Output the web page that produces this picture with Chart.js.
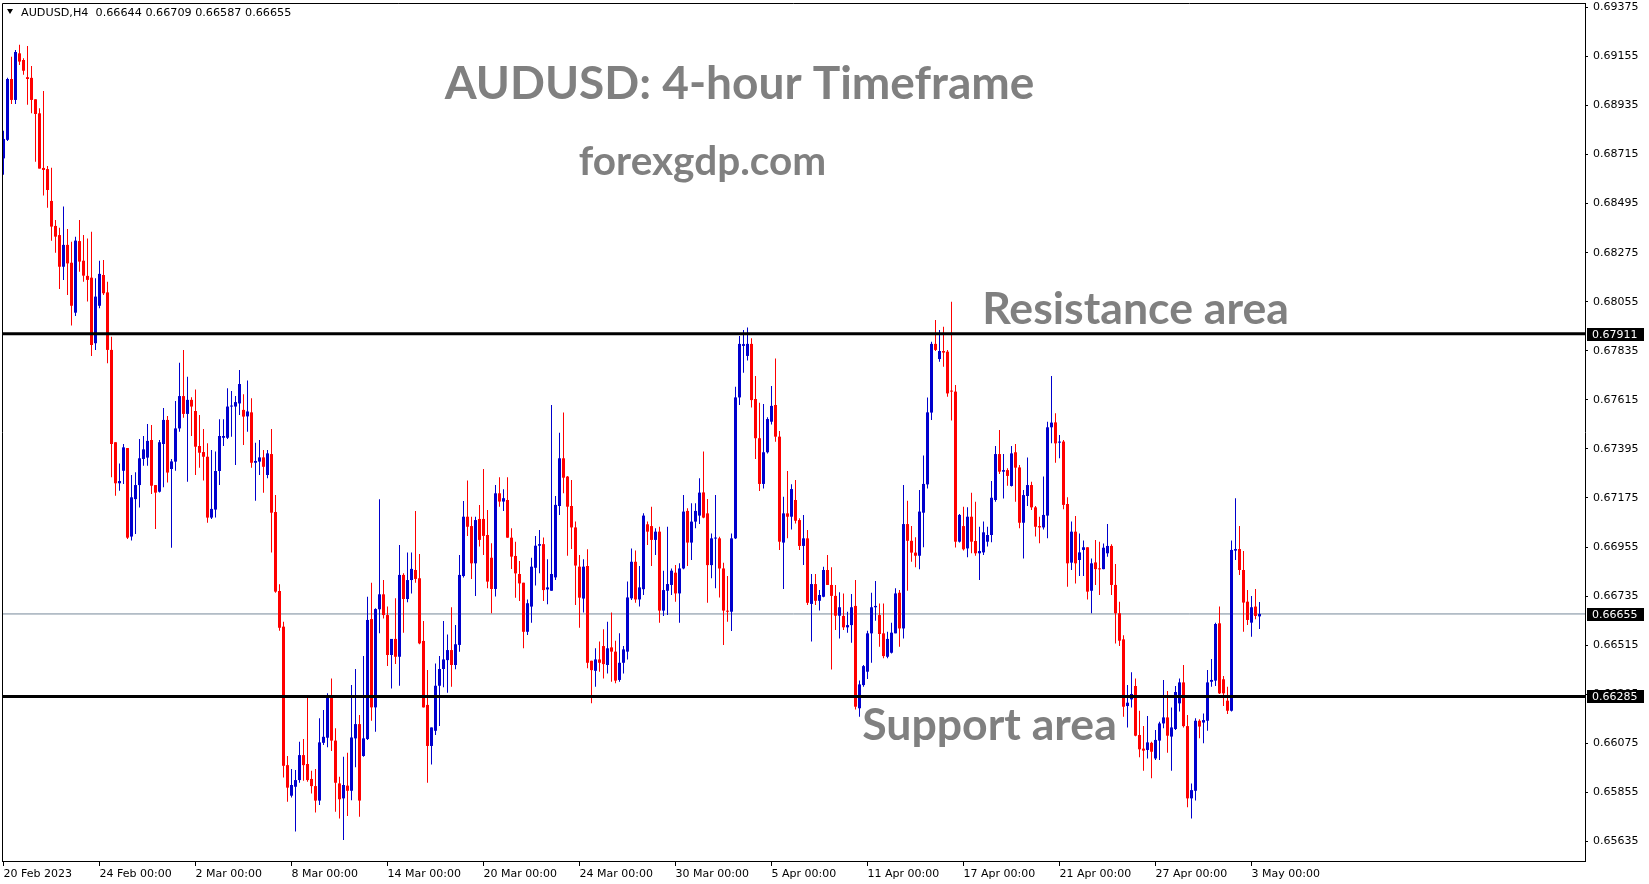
<!DOCTYPE html>
<html>
<head>
<meta charset="utf-8">
<title>AUDUSD H4</title>
<script src="https://cdn.jsdelivr.net/npm/chart.js@4.4.1/dist/chart.umd.min.js"></script>
<style>
  html, body { margin: 0; padding: 0; background: #fff; overflow: hidden; }
  canvas { display: block; }
</style>
</head>
<body>
<canvas id="chart" width="1649" height="884"></canvas>
<script>
// H4 candles, 20 Feb 2023 -> 3 May 2023
const barOpen = [
  0.68698, 0.68781, 0.69054, 0.68960, 0.69169, 0.69139, 0.69062, 0.69059, 0.68963, 0.68900,
  0.68655, 0.68650, 0.68507, 0.68395, 0.68354, 0.68212, 0.68310, 0.68230, 0.68006, 0.68327,
  0.68239, 0.68171, 0.68163, 0.67869, 0.68037, 0.68175, 0.68097, 0.67839, 0.67425, 0.67241,
  0.67297, 0.67399, 0.67002, 0.67170, 0.67233, 0.67350, 0.67356, 0.67435, 0.67233, 0.67203,
  0.67417, 0.67525, 0.67305, 0.67338, 0.67487, 0.67632, 0.67552, 0.67615, 0.67565, 0.67408,
  0.67381, 0.67360, 0.67087, 0.67123, 0.67296, 0.67445, 0.67445, 0.67585, 0.67585, 0.67599,
  0.67570, 0.67541, 0.67559, 0.67333, 0.67338, 0.67357, 0.67278, 0.67372, 0.67112, 0.66758,
  0.66598, 0.65977, 0.65840, 0.65880, 0.65910, 0.66022, 0.65982, 0.65915, 0.65883, 0.65818,
  0.66077, 0.66100, 0.66281, 0.66087, 0.65895, 0.65828, 0.65885, 0.65862, 0.66097, 0.66161,
  0.66018, 0.66094, 0.66632, 0.66236, 0.66676, 0.66743, 0.66650, 0.66471, 0.66543, 0.66463,
  0.66830, 0.66722, 0.66807, 0.66852, 0.66815, 0.66534, 0.66247, 0.66063, 0.66131, 0.66333,
  0.66408, 0.66448, 0.66493, 0.66426, 0.66516, 0.66825, 0.67091, 0.67049, 0.66882, 0.67081,
  0.67081, 0.67009, 0.66907, 0.66767, 0.67196, 0.67159, 0.67166, 0.66997, 0.66915, 0.66834,
  0.66795, 0.66575, 0.66688, 0.66862, 0.66961, 0.66968, 0.66765, 0.66759, 0.66819, 0.67139,
  0.67353, 0.67271, 0.67139, 0.67043, 0.66867, 0.66724, 0.66870, 0.66445, 0.66400, 0.66451,
  0.66511, 0.66426, 0.66505, 0.66486, 0.66359, 0.66436, 0.66486, 0.66725, 0.66889, 0.66720,
  0.66766, 0.67057, 0.67049, 0.66987, 0.67024, 0.66670, 0.66759, 0.66785, 0.66840, 0.66747,
  0.66859, 0.67117, 0.66975, 0.67069, 0.67096, 0.67200, 0.67106, 0.66874, 0.66993, 0.66994,
  0.66859, 0.66668, 0.66665, 0.66994, 0.67626, 0.67857, 0.67812, 0.67866, 0.67619, 0.67443,
  0.67238, 0.67380, 0.67517, 0.67592, 0.67450, 0.66975, 0.67106, 0.67091, 0.67166, 0.67076,
  0.66960, 0.66994, 0.66700, 0.66789, 0.66714, 0.66732, 0.66852, 0.66785, 0.66736, 0.66647,
  0.66646, 0.66595, 0.66605, 0.66691, 0.66232, 0.66336, 0.66396, 0.66568, 0.66685, 0.66650,
  0.66568, 0.66463, 0.66481, 0.66568, 0.66750, 0.66590, 0.67058, 0.66983, 0.66930, 0.66916,
  0.67109, 0.67236, 0.67558, 0.67866, 0.67798, 0.67834, 0.67831, 0.67656, 0.67652, 0.66979,
  0.67049, 0.66949, 0.67091, 0.66982, 0.66927, 0.66931, 0.66979, 0.67009, 0.67166, 0.67372,
  0.67293, 0.67300, 0.67229, 0.67380, 0.67312, 0.67064, 0.67184, 0.67233, 0.67133, 0.67049,
  0.67043, 0.67096, 0.67492, 0.67514, 0.67423, 0.67428, 0.67148, 0.66885, 0.67024, 0.66897,
  0.66942, 0.66954, 0.66759, 0.66886, 0.66859, 0.66856, 0.66927, 0.66960, 0.66785, 0.66658,
  0.66541, 0.66242, 0.66272, 0.66332, 0.66112, 0.66051, 0.66045, 0.66077, 0.66007, 0.66087,
  0.66164, 0.66191, 0.66105, 0.66139, 0.66254, 0.66348, 0.66152, 0.65828, 0.65862, 0.66176,
  0.66168, 0.66176, 0.66351, 0.66356, 0.66613, 0.66362, 0.66266, 0.66221, 0.66939, 0.66946,
  0.66852, 0.66710, 0.66616, 0.66688, 0.66644
];
const barHigh = [
  0.68822, 0.69060, 0.69154, 0.69184, 0.69207, 0.69147, 0.69202, 0.69112, 0.68963, 0.68923,
  0.69000, 0.68664, 0.68656, 0.68422, 0.68387, 0.68482, 0.68381, 0.68324, 0.68347, 0.68422,
  0.68354, 0.68339, 0.68369, 0.68160, 0.68239, 0.68242, 0.68145, 0.67898, 0.67425, 0.67330,
  0.67417, 0.67399, 0.67278, 0.67290, 0.67439, 0.67453, 0.67507, 0.67502, 0.67233, 0.67435,
  0.67579, 0.67543, 0.67350, 0.67610, 0.67782, 0.67839, 0.67719, 0.67627, 0.67662, 0.67547,
  0.67484, 0.67420, 0.67390, 0.67383, 0.67528, 0.67528, 0.67667, 0.67655, 0.67632, 0.67749,
  0.67640, 0.67702, 0.67622, 0.67423, 0.67435, 0.67390, 0.67390, 0.67484, 0.67188, 0.66788,
  0.66620, 0.66018, 0.65960, 0.65955, 0.66082, 0.66094, 0.66281, 0.65952, 0.65960, 0.66187,
  0.66224, 0.66299, 0.66366, 0.66142, 0.65925, 0.66015, 0.66033, 0.66336, 0.66408, 0.66202,
  0.66466, 0.66732, 0.66795, 0.66680, 0.67169, 0.66807, 0.66688, 0.66543, 0.66725, 0.66964,
  0.66837, 0.66931, 0.66930, 0.67117, 0.66924, 0.66623, 0.66404, 0.66146, 0.66433, 0.66466,
  0.66623, 0.66563, 0.66685, 0.66605, 0.66919, 0.67162, 0.67253, 0.67091, 0.67091, 0.67144,
  0.67305, 0.67121, 0.66972, 0.67233, 0.67268, 0.67214, 0.67268, 0.67039, 0.66979, 0.66892,
  0.66795, 0.66720, 0.66907, 0.67005, 0.67031, 0.66998, 0.66900, 0.67592, 0.67184, 0.67468,
  0.67558, 0.67274, 0.67256, 0.67069, 0.66919, 0.66900, 0.66945, 0.66445, 0.66501, 0.66531,
  0.66586, 0.66620, 0.66661, 0.66535, 0.66568, 0.66511, 0.66800, 0.66949, 0.66939, 0.66870,
  0.67106, 0.67069, 0.67136, 0.67039, 0.67046, 0.66849, 0.67046, 0.66859, 0.66874, 0.66882,
  0.67188, 0.67129, 0.67151, 0.67151, 0.67263, 0.67383, 0.67170, 0.67016, 0.67188, 0.67001,
  0.66885, 0.66825, 0.67016, 0.67674, 0.67901, 0.67928, 0.67940, 0.67891, 0.67722, 0.67602,
  0.67596, 0.67537, 0.67677, 0.67801, 0.67475, 0.67181, 0.67296, 0.67237, 0.67256, 0.67084,
  0.67099, 0.67031, 0.66834, 0.66834, 0.66762, 0.66867, 0.66919, 0.66864, 0.66785, 0.66752,
  0.66747, 0.66665, 0.66744, 0.66807, 0.66356, 0.66426, 0.66580, 0.66750, 0.66803, 0.66702,
  0.66702, 0.66575, 0.66616, 0.66770, 0.66762, 0.67233, 0.67163, 0.67049, 0.66999, 0.67211,
  0.67365, 0.67626, 0.67876, 0.67973, 0.67928, 0.67943, 0.67839, 0.68055, 0.67682, 0.67103,
  0.67136, 0.67133, 0.67199, 0.67158, 0.67046, 0.67069, 0.67046, 0.67251, 0.67408, 0.67480,
  0.67372, 0.67308, 0.67408, 0.67417, 0.67323, 0.67211, 0.67357, 0.67248, 0.67139, 0.67091,
  0.67271, 0.67517, 0.67722, 0.67555, 0.67457, 0.67435, 0.67178, 0.67069, 0.67094, 0.67016,
  0.66984, 0.66954, 0.66904, 0.66987, 0.66979, 0.66971, 0.67058, 0.66967, 0.66879, 0.66710,
  0.66560, 0.66336, 0.66393, 0.66366, 0.66221, 0.66152, 0.66197, 0.66082, 0.66134, 0.66172,
  0.66359, 0.66309, 0.66236, 0.66332, 0.66366, 0.66426, 0.66202, 0.65895, 0.66187, 0.66183,
  0.66209, 0.66404, 0.66453, 0.66616, 0.66688, 0.66377, 0.66329, 0.66984, 0.67174, 0.67049,
  0.66937, 0.66762, 0.66735, 0.66767, 0.66709
];
const barLow = [
  0.68624, 0.68776, 0.68942, 0.68942, 0.69117, 0.69073, 0.68938, 0.68900, 0.68683, 0.68652,
  0.68531, 0.68477, 0.68328, 0.68275, 0.68112, 0.68153, 0.68085, 0.67948, 0.67991, 0.68190,
  0.68145, 0.68056, 0.67812, 0.67839, 0.68026, 0.68085, 0.67779, 0.67268, 0.67185, 0.67208,
  0.67238, 0.66991, 0.66984, 0.67013, 0.67132, 0.67320, 0.67320, 0.67193, 0.67036, 0.67200,
  0.67223, 0.67244, 0.66952, 0.67297, 0.67472, 0.67535, 0.67248, 0.67453, 0.67278, 0.67311,
  0.67253, 0.67064, 0.67081, 0.67087, 0.67233, 0.67408, 0.67439, 0.67450, 0.67323, 0.67547,
  0.67413, 0.67472, 0.67311, 0.67163, 0.67278, 0.67199, 0.67263, 0.66930, 0.66750, 0.66580,
  0.65922, 0.65813, 0.65832, 0.65679, 0.65898, 0.65907, 0.65903, 0.65850, 0.65765, 0.65798,
  0.66067, 0.66057, 0.66040, 0.65768, 0.65738, 0.65641, 0.65749, 0.65820, 0.65967, 0.65746,
  0.66015, 0.66090, 0.66176, 0.66127, 0.66568, 0.66635, 0.66421, 0.66321, 0.66430, 0.66333,
  0.66571, 0.66707, 0.66747, 0.66795, 0.66519, 0.66236, 0.65898, 0.65980, 0.66112, 0.66152,
  0.66326, 0.66302, 0.66329, 0.66407, 0.66486, 0.66818, 0.67005, 0.66812, 0.66736, 0.66957,
  0.66919, 0.66770, 0.66658, 0.66733, 0.67136, 0.67117, 0.66997, 0.66857, 0.66728, 0.66713,
  0.66501, 0.66561, 0.66616, 0.66782, 0.66837, 0.66713, 0.66698, 0.66759, 0.66807, 0.67099,
  0.67196, 0.66916, 0.66946, 0.66695, 0.66593, 0.66661, 0.66411, 0.66254, 0.66329, 0.66396,
  0.66366, 0.66388, 0.66351, 0.66344, 0.66351, 0.66388, 0.66451, 0.66717, 0.66705, 0.66688,
  0.66740, 0.66964, 0.66870, 0.66919, 0.66616, 0.66646, 0.66650, 0.66740, 0.66710, 0.66616,
  0.66855, 0.66870, 0.66897, 0.67039, 0.67058, 0.67084, 0.66705, 0.66815, 0.66770, 0.66729,
  0.66516, 0.66620, 0.66578, 0.66991, 0.67592, 0.67737, 0.67791, 0.67581, 0.67350, 0.67206,
  0.67218, 0.67375, 0.67505, 0.67427, 0.66942, 0.66767, 0.66994, 0.67034, 0.67061, 0.66942,
  0.66874, 0.66695, 0.66531, 0.66695, 0.66670, 0.66730, 0.66785, 0.66406, 0.66583, 0.66545,
  0.66583, 0.66571, 0.66526, 0.66227, 0.66194, 0.66329, 0.66363, 0.66436, 0.66625, 0.66508,
  0.66456, 0.66456, 0.66478, 0.66568, 0.66508, 0.66545, 0.66759, 0.66889, 0.66864, 0.66855,
  0.66954, 0.67217, 0.67525, 0.67834, 0.67786, 0.67764, 0.67629, 0.67522, 0.66953, 0.66975,
  0.66939, 0.66909, 0.66927, 0.66916, 0.66807, 0.66919, 0.66957, 0.66976, 0.67158, 0.67283,
  0.67173, 0.67230, 0.67226, 0.67158, 0.67039, 0.66904, 0.67139, 0.67121, 0.67002, 0.66972,
  0.67034, 0.66994, 0.67420, 0.67333, 0.67353, 0.67124, 0.66777, 0.66852, 0.66792, 0.66825,
  0.66825, 0.66720, 0.66658, 0.66785, 0.66740, 0.66855, 0.66912, 0.66740, 0.66523, 0.66511,
  0.66194, 0.66146, 0.66236, 0.66107, 0.66012, 0.65952, 0.66007, 0.65918, 0.66000, 0.66000,
  0.66142, 0.66033, 0.65952, 0.66134, 0.66217, 0.66146, 0.65788, 0.65738, 0.65818, 0.66097,
  0.66075, 0.66131, 0.66329, 0.66332, 0.66296, 0.66242, 0.66206, 0.66217, 0.66897, 0.66830,
  0.66575, 0.66605, 0.66553, 0.66631, 0.66587
];
const barClose = [
  0.68785, 0.69054, 0.68960, 0.69175, 0.69132, 0.69091, 0.69054, 0.68960, 0.68897, 0.68652,
  0.68646, 0.68556, 0.68392, 0.68347, 0.68212, 0.68310, 0.68227, 0.68037, 0.68329, 0.68235,
  0.68172, 0.68153, 0.67861, 0.68078, 0.68180, 0.68093, 0.67839, 0.67417, 0.67241, 0.67251,
  0.67402, 0.66997, 0.67178, 0.67233, 0.67353, 0.67393, 0.67431, 0.67230, 0.67199, 0.67425,
  0.67525, 0.67289, 0.67339, 0.67487, 0.67632, 0.67552, 0.67615, 0.67585, 0.67405, 0.67378,
  0.67360, 0.67087, 0.67126, 0.67296, 0.67453, 0.67453, 0.67585, 0.67589, 0.67605, 0.67686,
  0.67540, 0.67563, 0.67333, 0.67341, 0.67357, 0.67315, 0.67375, 0.67109, 0.66755, 0.66593,
  0.65974, 0.65876, 0.65888, 0.65910, 0.66022, 0.65977, 0.65910, 0.65883, 0.65818, 0.66079,
  0.66104, 0.66281, 0.66087, 0.65898, 0.65824, 0.65888, 0.65862, 0.66101, 0.66161, 0.65818,
  0.66097, 0.66628, 0.66236, 0.66677, 0.66743, 0.66650, 0.66471, 0.66543, 0.66463, 0.66830,
  0.66722, 0.66807, 0.66857, 0.66812, 0.66523, 0.66236, 0.66063, 0.66146, 0.66333, 0.66408,
  0.66451, 0.66493, 0.66426, 0.66519, 0.66830, 0.67091, 0.67046, 0.66882, 0.67076, 0.66987,
  0.67005, 0.66800, 0.66767, 0.67196, 0.67159, 0.67174, 0.66997, 0.66912, 0.66837, 0.66792,
  0.66575, 0.66703, 0.66867, 0.66961, 0.66968, 0.66762, 0.66774, 0.66834, 0.67144, 0.67353,
  0.67266, 0.67136, 0.67043, 0.66872, 0.66728, 0.66867, 0.66436, 0.66403, 0.66451, 0.66436,
  0.66430, 0.66501, 0.66486, 0.66356, 0.66436, 0.66496, 0.66729, 0.66889, 0.66720, 0.66774,
  0.67096, 0.67024, 0.66987, 0.67024, 0.66670, 0.66762, 0.66789, 0.66849, 0.66747, 0.66859,
  0.67114, 0.66975, 0.67069, 0.67117, 0.67199, 0.67087, 0.66874, 0.66994, 0.66997, 0.66859,
  0.66670, 0.66665, 0.66994, 0.67626, 0.67866, 0.67865, 0.67866, 0.67614, 0.67443, 0.67238,
  0.67380, 0.67529, 0.67588, 0.67450, 0.66979, 0.67106, 0.67091, 0.67215, 0.67073, 0.66960,
  0.66994, 0.66705, 0.66789, 0.66714, 0.66740, 0.66852, 0.66785, 0.66736, 0.66647, 0.66685,
  0.66595, 0.66605, 0.66685, 0.66239, 0.66339, 0.66421, 0.66568, 0.66685, 0.66691, 0.66565,
  0.66466, 0.66543, 0.66571, 0.66747, 0.66590, 0.67058, 0.66983, 0.66930, 0.66916, 0.67114,
  0.67238, 0.67559, 0.67866, 0.67839, 0.67834, 0.67827, 0.67644, 0.67652, 0.66979, 0.67099,
  0.66945, 0.67091, 0.66979, 0.66927, 0.66937, 0.67021, 0.67009, 0.67176, 0.67372, 0.67293,
  0.67300, 0.67274, 0.67375, 0.67311, 0.67064, 0.67188, 0.67233, 0.67133, 0.67046, 0.67043,
  0.67099, 0.67492, 0.67513, 0.67420, 0.67428, 0.67144, 0.66882, 0.67024, 0.66882, 0.66931,
  0.66954, 0.66755, 0.66882, 0.66856, 0.66855, 0.66952, 0.66960, 0.66785, 0.66658, 0.66535,
  0.66239, 0.66257, 0.66296, 0.66109, 0.66048, 0.66042, 0.66079, 0.66037, 0.66090, 0.66164,
  0.66191, 0.66109, 0.66146, 0.66305, 0.66348, 0.66152, 0.65828, 0.65865, 0.66176, 0.66150,
  0.66179, 0.66348, 0.66359, 0.66610, 0.66299, 0.66299, 0.66221, 0.66942, 0.66946, 0.66852,
  0.66706, 0.66628, 0.66685, 0.66646, 0.66655
];

const dateTickBars = [0, 24, 48, 72, 96, 120, 144, 168, 192, 216, 240, 264, 288, 312];
const dateTickLabels = ['20 Feb 2023', '24 Feb 00:00', '2 Mar 00:00', '8 Mar 00:00', '14 Mar 00:00',
  '20 Mar 00:00', '24 Mar 00:00', '30 Mar 00:00', '5 Apr 00:00', '11 Apr 00:00', '17 Apr 00:00',
  '21 Apr 00:00', '27 Apr 00:00', '3 May 00:00'];
const priceTicks = [0.69375, 0.69155, 0.68935, 0.68715, 0.68495, 0.68275, 0.68055, 0.67835, 0.67615,
  0.67395, 0.67175, 0.66955, 0.66735, 0.66515, 0.66295, 0.66075, 0.65855, 0.65635];

const resistanceLevel = 0.67911;
const supportLevel = 0.66285;
const bidLevel = 0.66655;

const BULL = '#0000CD';
const BEAR = '#FF0000';
const TEXT_GRAY = '#808080';

// visible window (MT4 leaves empty space on the right)
const X_MIN = -0.375, X_MAX = 395.375;
const Y_MIN = 0.655471, Y_MAX = 0.693947;

const bodies = barClose.map((c, i) => ({ x: i, y: [barOpen[i], c] }));
const wicks = barHigh.map((h, i) => ({ x: i, y: [barLow[i], h] }));
const candleColors = barClose.map((c, i) => (c >= barOpen[i] ? BULL : BEAR));

function levelLine(v) {
  return [{ x: X_MIN, y: v }, { x: X_MAX, y: v }];
}

// drop the label overhang padding Chart.js adds, so the plot box matches MT4
function noPad(s) {
  s.paddingTop = 0;
  s.paddingBottom = 0;
  s.paddingLeft = 0;
  s.paddingRight = 0;
}

const overlay = {
  id: 'overlay',
  afterDraw(chart) {
    const { ctx, chartArea: a, scales: { y } } = chart;
    ctx.save();

    // left + top frame
    ctx.strokeStyle = '#000';
    ctx.lineWidth = 1;
    ctx.beginPath();
    ctx.moveTo(a.left + 0.5, a.bottom);
    ctx.lineTo(a.left + 0.5, a.top + 0.5);
    ctx.lineTo(a.right, a.top + 0.5);
    ctx.stroke();

    // header
    ctx.fillStyle = '#000';
    ctx.beginPath();
    ctx.moveTo(7, 9);
    ctx.lineTo(13, 9);
    ctx.lineTo(10, 14);
    ctx.closePath();
    ctx.fill();
    const n = barClose.length - 1;
    const fmt = v => v.toFixed(5);
    ctx.font = '11.2px "DejaVu Sans"';
    ctx.textAlign = 'left';
    ctx.textBaseline = 'alphabetic';
    ctx.fillText('AUDUSD,H4  ' + [barOpen[n], barHigh[n], barLow[n], barClose[n]].map(fmt).join(' '), 21, 16);

    // big gray captions
    ctx.fillStyle = TEXT_GRAY;
    ctx.textAlign = 'center';
    ctx.font = 'bold 46px Lato';
    ctx.fillText('AUDUSD: 4-hour Timeframe', 739.5, 99);
    ctx.font = 'bold 40.5px Lato';
    ctx.fillText('forexgdp.com', 702.5, 175);
    ctx.font = 'bold 44.6px Lato';
    ctx.fillText('Resistance area', 1135.5, 324);
    ctx.fillText('Support area', 989.5, 740);

    // price tags on the right axis
    ctx.font = '11px "DejaVu Sans"';
    ctx.textAlign = 'left';
    ctx.textBaseline = 'middle';
    [resistanceLevel, bidLevel, supportLevel].forEach(v => {
      const py = Math.round(y.getPixelForValue(v));
      ctx.fillStyle = '#000';
      ctx.fillRect(a.right + 2, py - 6, 57, 13);
      ctx.fillStyle = '#fff';
      ctx.fillText(fmt(v), a.right + 7, py + 1);
    });
    ctx.restore();
  }
};

Chart.defaults.font.family = '"DejaVu Sans"';
Chart.defaults.font.size = 11;
Chart.defaults.color = '#000';

new Chart(document.getElementById('chart').getContext('2d'), {
  type: 'bar',
  data: {
    datasets: [
      {
        type: 'line', data: levelLine(resistanceLevel), borderColor: '#000', borderWidth: 3,
        pointRadius: 0, order: 0
      },
      {
        type: 'line', data: levelLine(supportLevel), borderColor: '#000', borderWidth: 3,
        pointRadius: 0, order: 0
      },
      {
        data: bodies, backgroundColor: candleColors, grouped: false, barPercentage: 0.75,
        categoryPercentage: 1, minBarLength: 1, inflateAmount: 0, order: 1
      },
      {
        data: wicks, backgroundColor: candleColors, grouped: false, barPercentage: 0.25,
        categoryPercentage: 1, inflateAmount: 0, order: 2
      },
      {
        type: 'line', data: levelLine(bidLevel), borderColor: '#778899', borderWidth: 1,
        pointRadius: 0, order: 3
      }
    ]
  },
  options: {
    responsive: false,
    devicePixelRatio: 1,
    animation: false,
    events: [],
    layout: { padding: { left: 2, top: 3, right: 0, bottom: 0 } },
    plugins: { legend: { display: false }, tooltip: { enabled: false } },
    scales: {
      x: {
        type: 'linear', position: 'bottom', min: X_MIN, max: X_MAX, offset: false, bounds: 'data',
        grid: { display: true, drawOnChartArea: false, drawTicks: true, tickLength: 5, color: '#000', offset: false },
        border: { display: true, color: '#000', width: 1 },
        ticks: {
          autoSkip: false, maxRotation: 0, align: 'start', padding: 2,
          callback: v => dateTickLabels[dateTickBars.indexOf(v)] || ''
        },
        afterBuildTicks: s => { s.ticks = dateTickBars.map(v => ({ value: v })); },
        afterFit: s => { s.height = 23; noPad(s); }
      },
      y: {
        type: 'linear', position: 'right', min: Y_MIN, max: Y_MAX, beginAtZero: false, bounds: 'data',
        grid: { display: true, drawOnChartArea: false, drawTicks: true, tickLength: 3, color: '#000' },
        border: { display: true, color: '#000', width: 1 },
        ticks: { autoSkip: false, padding: 5, callback: v => Number(v).toFixed(5) },
        afterBuildTicks: s => { s.ticks = priceTicks.map(v => ({ value: v })); },
        afterFit: s => { s.width = 64; noPad(s); }
      }
    }
  },
  plugins: [overlay]
});
</script>
</body>
</html>
